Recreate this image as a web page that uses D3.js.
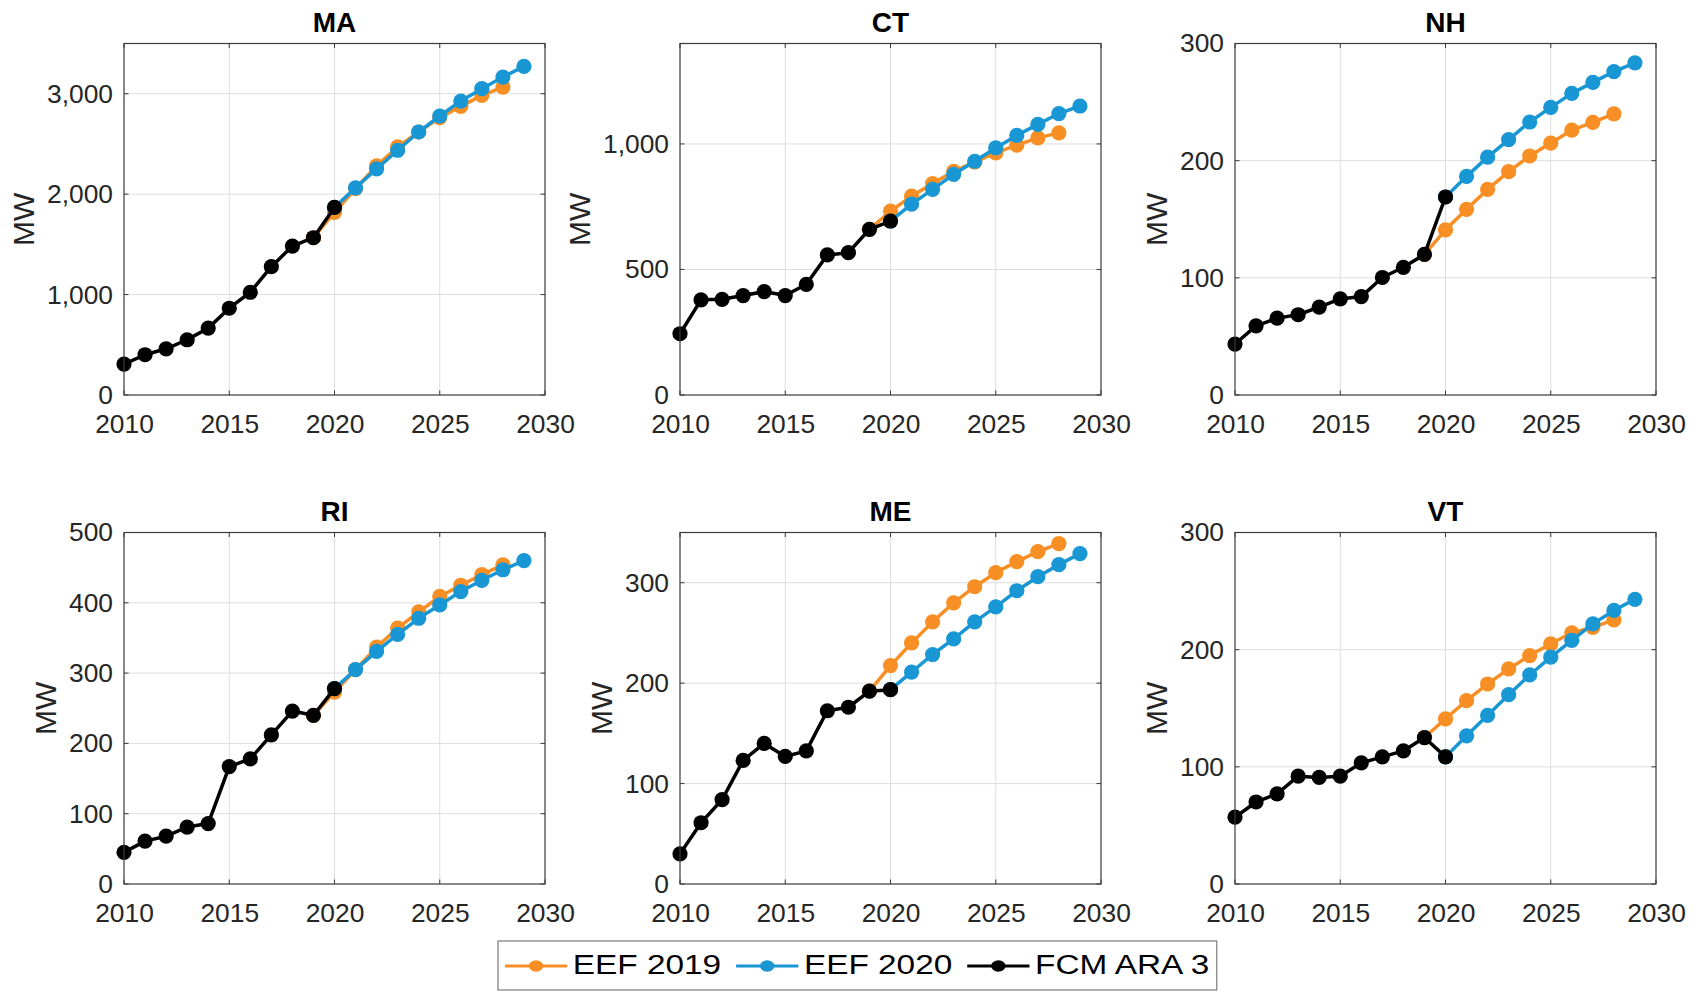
<!DOCTYPE html>
<html>
<head>
<meta charset="utf-8">
<script src="https://cdn.jsdelivr.net/npm/d3@7"></script>
<style>
  body { margin: 0; background: #fff; }
  svg { display: block; font-family: "Liberation Sans", Arial, sans-serif; }
</style>
</head>
<body>
<div id="chart"></div>
<script>
"use strict";

// years
var fcmYears = [2010, 2011, 2012, 2013, 2014, 2015, 2016, 2017, 2018, 2019, 2020];
var eef2019Years = [2019, 2020, 2021, 2022, 2023, 2024, 2025, 2026, 2027, 2028];
var eef2020Years = [2020, 2021, 2022, 2023, 2024, 2025, 2026, 2027, 2028, 2029];

// MW by state
var maFcm = [308, 401, 460, 550, 666, 864, 1023, 1278, 1483, 1566, 1868];
var maEef2019 = [1566, 1818, 2056, 2281, 2470, 2619, 2762, 2874, 2983, 3066];
var maEef2020 = [1868, 2063, 2252, 2437, 2619, 2778, 2927, 3050, 3166, 3272];

var ctFcm = [244, 379, 381, 396, 412, 396, 441, 558, 567, 660, 693];
var ctEef2019 = [660, 732, 792, 842, 891, 928, 964, 995, 1024, 1044];
var ctEef2020 = [693, 760, 819, 879, 931, 984, 1034, 1078, 1121, 1151];

var nhFcm = [43.5, 59, 65.6, 68.5, 75, 82, 84, 100.3, 109, 120, 169];
var nhEef2019 = [120, 141, 158.5, 175.5, 190.6, 204, 215, 226, 232.7, 240];
var nhEef2020 = [169, 186.6, 203, 218, 233, 245.5, 257.4, 266.8, 276, 283.5];

var riFcm = [45, 61, 68, 81, 86, 167, 178, 212, 246, 240, 278];
var riEef2019 = [240, 273, 305, 337, 364, 387, 409, 425, 440, 454];
var riEef2020 = [278, 305, 331, 355, 378, 397, 416, 432, 447, 460];

var meFcm = [30, 61, 84, 123, 140, 127, 132.5, 172.5, 176, 192, 193.5];
var meEef2019 = [192, 217.5, 240, 261, 280, 296, 310, 321, 331, 339];
var meEef2020 = [193.5, 211, 228.5, 244, 261, 276, 292, 306, 318, 329];

var vtFcm = [57, 70, 77, 92, 91, 92, 103.4, 108.5, 113.6, 125, 108.5];
var vtEef2019 = [125, 141, 156.5, 170.7, 183.6, 195, 205, 214.4, 219, 225.5];
var vtEef2020 = [108.5, 126.5, 144, 161.6, 178.4, 193.6, 208, 222, 233.5, 243];

var states = ["MA", "CT", "NH", "RI", "ME", "VT"];
var yMax = [3500, 1400, 300, 500, 350, 300];
var yTicks = [
    [0, 1000, 2000, 3000],
    [0, 500, 1000],
    [0, 100, 200, 300],
    [0, 100, 200, 300, 400, 500],
    [0, 100, 200, 300],
    [0, 100, 200, 300]
];
var xTicks = [2010, 2015, 2020, 2025, 2030];
var fcmByState = [maFcm, ctFcm, nhFcm, riFcm, meFcm, vtFcm];
var eef2019ByState = [maEef2019, ctEef2019, nhEef2019, riEef2019, meEef2019, vtEef2019];
var eef2020ByState = [maEef2020, ctEef2020, nhEef2020, riEef2020, meEef2020, vtEef2020];

var seriesNames = ["EEF 2019", "EEF 2020", "FCM ARA 3"];
var seriesColors = ["#f78f25", "#1996d4", "#000000"];

var width = 1705, height = 991;
var colLeft = [124, 680, 1235];
var rowTop = [43.5, 532.5];
var plotW = 421, plotH = 351.5;
var tickFont = "26.4px";

var svg = d3.select("#chart").append("svg")
    .attr("width", width)
    .attr("height", height);

svg.append("rect").attr("width", width).attr("height", height).attr("fill", "#fff");

function zip(xs, ys) {
    return xs.map(function (x, i) { return { x: x, y: ys[i] }; });
}

states.forEach(function (name, i) {
    var left = colLeft[i % 3];
    var top = rowTop[Math.floor(i / 3)];

    var x = d3.scaleLinear().domain([2010, 2030]).range([0, plotW]);
    var y = d3.scaleLinear().domain([0, yMax[i]]).range([plotH, 0]);

    var g = svg.append("g").attr("transform", "translate(" + left + "," + top + ")");

    // grid
    g.append("g").selectAll("line")
        .data(xTicks.slice(1, -1))
        .enter().append("line")
        .attr("x1", function (d) { return x(d); })
        .attr("x2", function (d) { return x(d); })
        .attr("y1", 0).attr("y2", plotH)
        .attr("stroke", "#dedede").attr("stroke-width", 1);
    g.append("g").selectAll("line")
        .data(yTicks[i].filter(function (d) { return d > 0 && d < yMax[i]; }))
        .enter().append("line")
        .attr("x1", 0).attr("x2", plotW)
        .attr("y1", function (d) { return y(d); })
        .attr("y2", function (d) { return y(d); })
        .attr("stroke", "#dedede").attr("stroke-width", 1);

    // inner ticks on all four sides
    var tl = 4.5;
    var ticks = g.append("g").attr("stroke", "#3a3a3a").attr("stroke-width", 1);
    xTicks.forEach(function (t) {
        ticks.append("line").attr("x1", x(t)).attr("x2", x(t)).attr("y1", plotH).attr("y2", plotH - tl);
        ticks.append("line").attr("x1", x(t)).attr("x2", x(t)).attr("y1", 0).attr("y2", tl);
    });
    yTicks[i].forEach(function (t) {
        ticks.append("line").attr("x1", 0).attr("x2", tl).attr("y1", y(t)).attr("y2", y(t));
        ticks.append("line").attr("x1", plotW).attr("x2", plotW - tl).attr("y1", y(t)).attr("y2", y(t));
    });

    // series
    var sets = [
        zip(eef2019Years, eef2019ByState[i]),
        zip(eef2020Years, eef2020ByState[i]),
        zip(fcmYears, fcmByState[i])
    ];
    var line = d3.line()
        .x(function (d) { return x(d.x); })
        .y(function (d) { return y(d.y); });

    sets.forEach(function (pts, k) {
        var s = g.append("g");
        s.append("path")
            .datum(pts)
            .attr("d", line)
            .attr("fill", "none")
            .attr("stroke", seriesColors[k])
            .attr("stroke-width", 3.5)
            .attr("stroke-linejoin", "round");
        s.selectAll("circle")
            .data(pts)
            .enter().append("circle")
            .attr("cx", function (d) { return x(d.x); })
            .attr("cy", function (d) { return y(d.y); })
            .attr("r", 7.6)
            .attr("fill", seriesColors[k]);
    });

    // box
    g.append("rect")
        .attr("width", plotW).attr("height", plotH)
        .attr("fill", "none")
        .attr("stroke", "#3a3a3a").attr("stroke-width", 1.2);

    // x axis labels
    var xa = g.append("g")
        .attr("transform", "translate(0," + plotH + ")")
        .call(d3.axisBottom(x).tickValues(xTicks).tickFormat(d3.format("d")).tickSize(0).tickPadding(19));
    xa.select(".domain").remove();
    xa.selectAll("text").attr("fill", "#262626").style("font-size", tickFont)
        .style("font-family", "'Liberation Sans', Arial, sans-serif");

    // y axis labels
    var ya = g.append("g")
        .call(d3.axisLeft(y).tickValues(yTicks[i]).tickFormat(d3.format(",")).tickSize(0).tickPadding(11));
    ya.select(".domain").remove();
    ya.selectAll("text").attr("fill", "#262626").style("font-size", tickFont)
        .style("font-family", "'Liberation Sans', Arial, sans-serif");

    var maxW = 0;
    ya.selectAll("text").each(function () {
        maxW = Math.max(maxW, this.getComputedTextLength());
    });

    g.append("text")
        .attr("transform", "translate(" + (-11 - maxW - 24) + "," + (plotH / 2) + ") rotate(-90)")
        .attr("text-anchor", "middle")
        .attr("dy", "0.36em")
        .attr("fill", "#262626")
        .style("font-size", "30px")
        .text("MW");

    g.append("text")
        .attr("x", plotW / 2)
        .attr("y", -11.5)
        .attr("text-anchor", "middle")
        .attr("fill", "#000")
        .style("font-size", "28px")
        .style("font-weight", "bold")
        .text(name);
});

// legend (stretched horizontally like the exported figure)
var stretch = 1.245;
var legendX = 498, legendY = 941, legendH = 49;
var legendBox = svg.append("rect");
var lg = svg.append("g")
    .attr("transform", "translate(" + legendX + "," + legendY + ") scale(" + stretch + ",1)");

var cursor = 5.6;
seriesNames.forEach(function (label, k) {
    lg.append("line")
        .attr("x1", cursor).attr("x2", cursor + 50)
        .attr("y1", 25).attr("y2", 25)
        .attr("stroke", seriesColors[k]).attr("stroke-width", 3);
    lg.append("circle")
        .attr("cx", cursor + 25).attr("cy", 25).attr("r", 5.8)
        .attr("fill", seriesColors[k]);
    var t = lg.append("text")
        .attr("x", cursor + 54.5)
        .attr("y", 33)
        .attr("fill", "#000")
        .style("font-size", "26.8px")
        .text(label);
    cursor += 54.5 + t.node().getComputedTextLength() + 12;
});
cursor += 6 - 12;

legendBox
    .attr("x", legendX).attr("y", legendY)
    .attr("width", cursor * stretch).attr("height", legendH)
    .attr("fill", "#fff")
    .attr("stroke", "#7a7a7a").attr("stroke-width", 1.2);
</script>
</body>
</html>
